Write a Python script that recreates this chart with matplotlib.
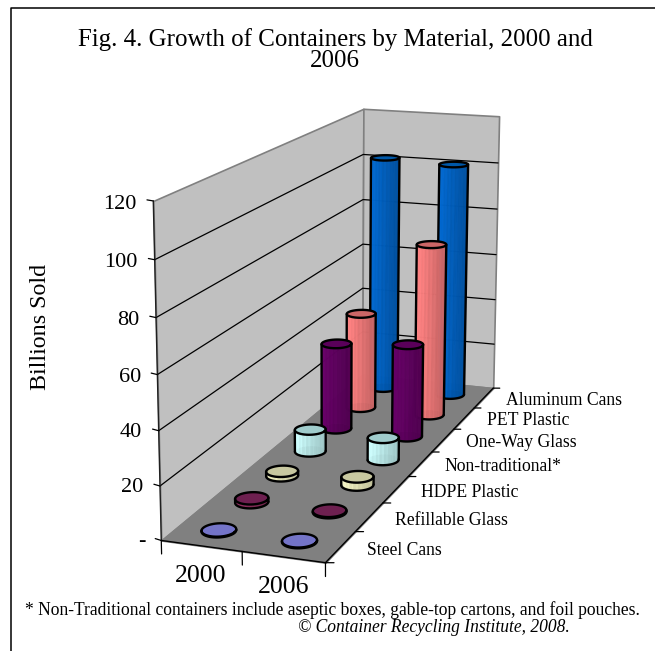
import matplotlib
matplotlib.use("Agg")
import matplotlib.pyplot as plt
import numpy as np
from matplotlib.lines import Line2D
from mpl_toolkits.mplot3d import proj3d
from mpl_toolkits.mplot3d.art3d import Poly3DCollection

plt.rcParams['font.family'] = ['Liberation Serif', 'DejaVu Serif']

years = ["2000", "2006"]
materials = ["Steel Cans", "Refillable Glass", "HDPE Plastic", "Non-traditional*",
             "One-Way Glass", "PET Plastic", "Aluminum Cans"]
sold_2000 = [0.3, 1.5, 1.8, 9, 36, 41, 102]
sold_2006 = [0.3, 0.5, 3.2, 9, 38.5, 73, 101]
side_colors = ["#9999FF", "#993366", "#FFFFCC", "#CCFFFF", "#660066", "#FF8080", "#0066CC"]
top_colors = ["#7474C8", "#6E2050", "#C8C8A0", "#A0CCCC", "#5A005A", "#CC6666", "#0058A8"]
z_ticks = [0, 20, 40, 60, 80, 100, 120]
z_labels = ["-", "20", "40", "60", "80", "100", "120"]

W, H = 655, 651
fig = plt.figure(figsize=(W / 100, H / 100), dpi=100)
# camera fitted to the corners of the box in the reference
ax = fig.add_axes([18.4 / W, 15.1 / H, 639.5 / W, 639.5 / H], projection='3d')
ax.set_xlim(0, 2, view_margin=0)
ax.set_ylim(0, 7, view_margin=0)
ax.set_zlim(0, 120, view_margin=0)
ax.view_init(elev=14.5054, azim=-70.6430, roll=-0.1098)
ax.set_proj_type('persp', focal_length=np.exp(-0.5777))
bx, by = np.exp(-0.6827), np.exp(0.5829)
ax.set_box_aspect((bx, by, 1))
ax.set_xticks([])
ax.set_yticks([])
ax.set_zticks([])
ax.set_axis_off()
ax.computed_zorder = False
ax.patch.set_alpha(0)

rx = 0.198
ry = 1.1 * rx * (7 / by) / (2 / bx)


def line3(xs, ys, zs, color='black', lw=0.9, z=2):
    ax.plot(xs, ys, zs, color=color, lw=lw, zorder=z, solid_capstyle='round')


def label3(x, y, z, s, **kw):
    # text anchored at a 3d point, placed once in the 2d plane of the axes
    tx, ty, _ = proj3d.proj_transform(x, y, z, ax.get_proj())
    ax.text2D(tx, ty, s, transform=ax.transData, **kw)


def wall(corners, color, z=1):
    ax.add_collection3d(Poly3DCollection([corners], facecolors=color, edgecolors='#808080', linewidths=1.2, zorder=z))


def cylinder(cx, cy, h, side, top, z):
    n = 48
    a = np.linspace(0, 2 * np.pi, n + 1)
    xs = cx + rx * np.cos(a)
    ys = cy + ry * np.sin(a)
    base = list(zip(xs, ys, np.zeros(n + 1)))
    lid = list(zip(xs, ys, np.full(n + 1, h)))
    quads = [[base[i], base[i + 1], lid[i + 1], lid[i]] for i in range(n)]
    rgb = np.array(matplotlib.colors.to_rgb(side))
    # lit from the left, with the narrow stripes of the old chart
    shade = 0.9 - 0.14 * np.cos(a[:-1]) + 0.05 * np.sin(a[:-1] * 11) ** 2
    faces = [(*np.clip(rgb * s, 0, 1), 0.88) for s in shade]
    ax.add_collection3d(Poly3DCollection([base], facecolors=[(*rgb * 0.7, 0.9)], linewidths=0, zorder=z))
    ax.add_collection3d(Poly3DCollection(quads, facecolors=faces, edgecolors=faces, linewidths=0.2, zorder=z + 0.1))
    ax.add_collection3d(Poly3DCollection([lid], facecolors=top, linewidths=0, zorder=z + 0.2))
    # outline: lid, front half of base, two vertical edges
    tx, ty, _ = proj3d.proj_transform(xs, ys, np.zeros(n + 1), ax.get_proj())
    tx, ty = np.array(tx), np.array(ty)
    i0, i1 = sorted((int(np.argmin(tx[:-1])), int(np.argmax(tx[:-1]))))
    arc = np.arange(i0, i1 + 1)
    if ty[arc].mean() > ty.mean():
        arc = np.r_[np.arange(i1, n), np.arange(0, i0 + 1)]
    line3(xs, ys, np.full(n + 1, h), lw=1.7, z=z + 0.3)
    line3(xs[arc], ys[arc], np.zeros(len(arc)), lw=1.7, z=z + 0.3)
    for i in (i0, i1):
        line3([xs[i], xs[i]], [ys[i], ys[i]], [0, h], lw=1.7, z=z + 0.3)


wall([(0, 0, 0), (0, 7, 0), (0, 7, 120), (0, 0, 120)], '#C0C0C0')
wall([(0, 7, 0), (2, 7, 0), (2, 7, 120), (0, 7, 120)], '#C0C0C0')
wall([(0, 0, 0), (2, 0, 0), (2, 7, 0), (0, 7, 0)], '#808080')

for t in z_ticks[1:-1]:
    line3([0, 0, 2], [0, 7, 7], [t, t, t], z=2)

# axis lines, ticks and their labels
line3([0, 0], [0, 0], [0, 120], color='#202020', lw=1.0, z=3)
line3([0, 2], [0, 0], [0, 0], lw=1.0, z=3)
line3([2, 2], [0, 7], [0, 0], lw=1.0, z=3)
for t, lab in zip(z_ticks, z_labels):
    line3([0, -0.09], [0, 0.03], [t, t], z=3)
    label3(-0.23, 0.05, t - 2, lab, ha='right', va='center', fontsize=16)
for i in range(3):
    line3([i, i], [0, 0], [0, -5], z=3)
for i, lab in enumerate(years):
    label3(i + 0.62, -0.3, -3, lab, ha='center', va='top', fontsize=18.5)
for k in range(8):
    line3([2, 2.09], [k, k + 0.03], [0, 0], z=3)
for k, lab in enumerate(materials):
    label3(2.32, k + 0.5, 0, lab, ha='left', va='center', fontsize=12.7)

for k in range(6, -1, -1):
    base_z = 10 + (6 - k) * 2
    cylinder(0.5, k + 0.5, sold_2000[k], side_colors[k], top_colors[k], base_z)
    cylinder(1.5, k + 0.5, sold_2006[k], side_colors[k], top_colors[k], base_z + 1)

fig.text(335 / W, 1 - 50 / H, "Fig. 4. Growth of Containers by Material, 2000 and\n2006", ha='center', va='center',
         fontsize=17.9, linespacing=0.97)
fig.text(40 / W, 1 - 327 / H, "Billions Sold", rotation=90, ha='center', va='center', fontsize=17.3)
fig.text(332 / W, 1 - 610 / H, "* Non-Traditional containers include aseptic boxes, gable-top cartons, and foil pouches.",
         ha='center', va='center', fontsize=12.65)
fig.text(434 / W, 1 - 627 / H, "\u00a9 Container Recycling Institute, 2008.", ha='center', va='center', fontsize=12.65,
         style='italic')
# the frame only shows on the top and left
fig.add_artist(Line2D([10.5 / W, 10.5 / W, 1], [0, 1 - 8 / H, 1 - 8 / H], color='black', lw=1.1,
                      transform=fig.transFigure))
fig.savefig("out.png", dpi=100)
